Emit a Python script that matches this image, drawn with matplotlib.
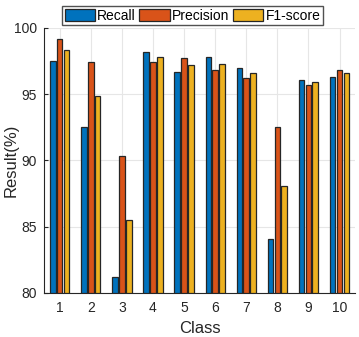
import numpy as np
import matplotlib
matplotlib.use("Agg")
import matplotlib.pyplot as plt

plt.rcParams['font.family'] = ['Liberation Sans', 'DejaVu Sans']

# values
classes = [1, 2, 3, 4, 5, 6, 7, 8, 9, 10]
recall = [97.5, 92.5, 81.2, 98.2, 96.7, 97.8, 97.0, 84.1, 96.1, 96.3]
precision = [99.2, 97.4, 90.3, 97.4, 97.7, 96.8, 96.2, 92.5, 95.7, 96.8]
f1 = [98.3, 94.9, 85.5, 97.8, 97.2, 97.3, 96.6, 88.1, 95.9, 96.6]

series = [("Recall", recall, "#0072BD"),
          ("Precision", precision, "#D95319"),
          ("F1-score", f1, "#EDB120")]

fig = plt.figure(figsize=(3.59, 3.37), dpi=100)
ax = fig.add_axes([0.123, 0.131, 0.866, 0.786])

x = np.array(classes)
w = 0.18
step = 0.22
for i, (name, vals, col) in enumerate(series):
    ax.bar(x + (i - 1) * step, np.array(vals) - 80, w, bottom=80, color=col,
           edgecolor="#262626", linewidth=0.9, label=name, zorder=3)

ax.set_xlim(0.5, 10.5)
ax.set_ylim(80, 100)
ax.set_xticks(classes)
ax.set_yticks([80, 85, 90, 95, 100])
ax.grid(True, color="#e6e6e6", linewidth=0.8, zorder=0)
for s in ["top", "right"]:
    ax.spines[s].set_visible(False)
for s in ["left", "bottom"]:
    ax.spines[s].set_color("#262626")
ax.tick_params(axis="both", labelsize=10, colors="#262626", length=3, direction="in")
ax.tick_params(axis="x", pad=6)
ax.tick_params(axis="y", pad=5)
ax.set_xlabel("Class", fontsize=12, color="#262626", labelpad=4)
ax.set_ylabel("Result(%)", fontsize=12, color="#262626")
ax.yaxis.set_label_coords(-0.083, 0.5)

leg = ax.legend(loc="lower center", bbox_to_anchor=(0.477, 1.01), ncol=3,
                fontsize=10, frameon=True, fancybox=False, edgecolor="#262626",
                handlelength=2.2, handleheight=0.9, handletextpad=0.15,
                columnspacing=0.25, borderpad=0.2, borderaxespad=0)
leg.get_frame().set_linewidth(1.0)

fig.savefig("out.png", dpi=100)
